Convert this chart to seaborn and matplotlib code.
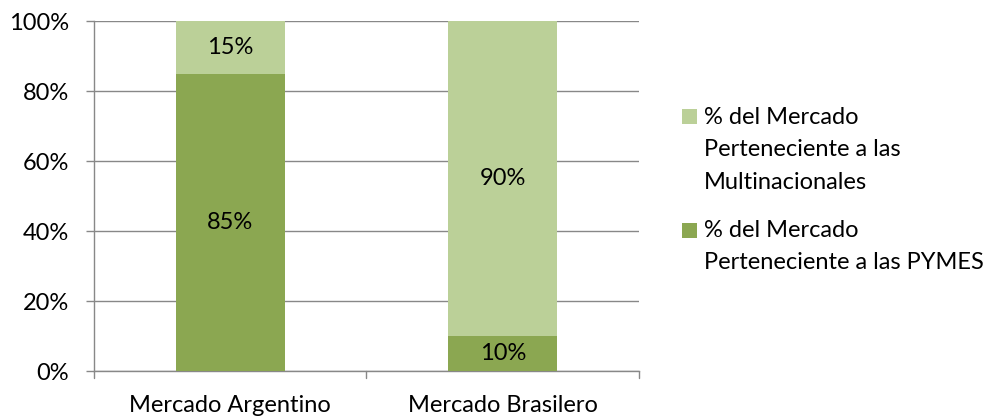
import matplotlib
matplotlib.use("Agg")
import matplotlib.pyplot as plt
import seaborn as sns
import pandas as pd
from matplotlib.patches import Rectangle

categories = ["Mercado Argentino", "Mercado Brasilero"]
pymes = [85, 10]
multinacionales = [15, 90]
series_labels = ["% del Mercado\nPerteneciente a las\nMultinacionales",
                 "% del Mercado\nPerteneciente a las PYMES"]
yticks = [0, 20, 40, 60, 80, 100]

DARK = "#8BA751"
LIGHT = "#BBD098"
GRID = "#888888"
FS = 17

sns.set_theme(style="white")
plt.rcParams["font.family"] = ["Lato", "DejaVu Sans"]

W, H = 994, 419
fig = plt.figure(figsize=(W / 100, H / 100), dpi=100)
ax = fig.add_axes([94 / W, 1 - 371 / H, (639 - 94) / W, (371 - 21.5) / H])

df = pd.DataFrame({"cat": categories, "pymes": pymes, "multi": multinacionales})

sns.barplot(data=df, x="cat", y="pymes", color=DARK, width=0.4, ax=ax,
            saturation=1, linewidth=0, zorder=3)
sns.barplot(data=df, x="cat", y="multi", color=LIGHT, width=0.4, ax=ax,
            saturation=1, linewidth=0, bottom=df["pymes"], zorder=3)

for cont in ax.containers:
    ax.bar_label(cont, labels=[f"{v:.0f}%" for v in cont.datavalues],
                 label_type="center", fontsize=FS, color="black")

ax.set_xlim(-0.5, 1.5)
ax.set_ylim(0, 100)
ax.set_yticks(yticks)
ax.set_yticklabels([f"{v}%" for v in yticks], fontsize=FS, color="black")
ax.set_xlabel("")
ax.set_ylabel("")
ax.tick_params(axis="x", labelsize=FS, colors="black", length=0, pad=17)
ax.tick_params(axis="y", length=5.8, width=1, color=GRID, pad=12, left=True)
ax.yaxis.grid(True, color=GRID, linewidth=1, zorder=0)
ax.set_axisbelow(True)
for s in ["top", "right"]:
    ax.spines[s].set_visible(False)
for s in ["left", "bottom"]:
    ax.spines[s].set_color(GRID)
    ax.spines[s].set_linewidth(1)

# category boundary ticks on the x axis
for xb in [-0.5, 0.5, 1.5]:
    ax.plot([xb, xb], [0, -2], color=GRID, linewidth=1, clip_on=False,
            transform=ax.transData)

# legend
entries = [(series_labels[0], LIGHT, 117), (series_labels[1], DARK, 230)]
for label, col, ypix in entries:
    fig.add_artist(Rectangle((682 / W, 1 - (ypix + 7.5) / H), 15 / W, 15 / H,
                             facecolor=col, edgecolor="none",
                             transform=fig.transFigure))
    for i, line in enumerate(label.split("\n")):
        fig.text(704 / W, 1 - (ypix + i * 32.5) / H, line, fontsize=FS,
                 color="black", va="center", ha="left")

fig.savefig("out.png", dpi=100)
